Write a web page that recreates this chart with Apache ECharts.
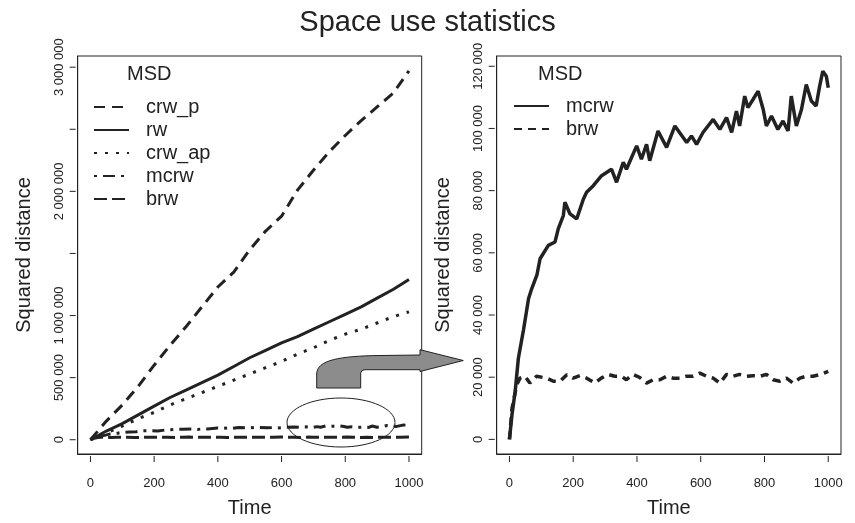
<!DOCTYPE html>
<html>
<head>
<meta charset="utf-8">
<script src="https://cdn.jsdelivr.net/npm/echarts@6/dist/echarts.min.js"></script>
<style>
  html, body { margin: 0; padding: 0; background: #fff; }
  #main { width: 855px; height: 523px; }
</style>
</head>
<body>
<div id="main"></div>
<script>
// time points used for the three straight-ish walks (left panel)
var leftTime = [0, 50, 100, 150, 200, 250, 300, 350, 400, 450, 500, 550, 600, 650, 700, 750, 800, 850, 900, 950, 1000];
var crwP  = [0, 150000, 280000, 430000, 600000, 760000, 910000, 1070000, 1230000, 1350000, 1530000, 1680000, 1800000, 2010000, 2170000, 2320000, 2450000, 2570000, 2680000, 2790000, 2970000];
var rw    = [0, 70000, 130000, 200000, 270000, 340000, 400000, 460000, 520000, 590000, 660000, 720000, 780000, 830000, 890000, 950000, 1010000, 1070000, 1140000, 1210000, 1290000];
var crwAp = [0, 55000, 110000, 170000, 220000, 280000, 330000, 380000, 430000, 480000, 530000, 580000, 630000, 690000, 740000, 800000, 850000, 890000, 940000, 990000, 1030000];

// mcrw and brw (same walks in both panels)
var mcrwTime = [0, 8, 18, 28, 44, 60, 70, 86, 96, 122, 143, 153, 169, 174, 190, 211, 232, 242, 263, 289, 320, 336, 357, 367, 399, 414, 430, 440, 466, 493, 519, 556, 571, 587, 607, 639, 660, 681, 697, 712, 722, 738, 748, 764, 780, 796, 806, 822, 842, 858, 874, 884, 900, 916, 931, 947, 962, 973, 983, 994, 1000];
var mcrwMsd  = [0, 8000, 15500, 26100, 35200, 45300, 48500, 52800, 58100, 62400, 63500, 67700, 72000, 76300, 72500, 70900, 77300, 79500, 81600, 84800, 86900, 82700, 89100, 86900, 94400, 90100, 94900, 89600, 99200, 93900, 100800, 95500, 97600, 94900, 98700, 102900, 99700, 103500, 98700, 105600, 100800, 110400, 106700, 109300, 112000, 106100, 100800, 104000, 99700, 102400, 99200, 110400, 100800, 106100, 114100, 108800, 107200, 113600, 118400, 116800, 113100];
var brwTime = [0, 8, 23, 33, 49, 64, 85, 117, 138, 159, 180, 200, 221, 242, 268, 288, 309, 330, 351, 367, 388, 409, 430, 451, 472, 493, 513, 534, 555, 576, 597, 618, 639, 660, 681, 701, 722, 743, 764, 785, 806, 827, 848, 869, 890, 911, 931, 952, 973, 1000];
var brwMsd  = [0, 10000, 17600, 19700, 20300, 18100, 20300, 19700, 18700, 18700, 20800, 19700, 20500, 19700, 18100, 19700, 20900, 20300, 20300, 19200, 20900, 19900, 18100, 19200, 19200, 20300, 19700, 19700, 20300, 20300, 21300, 20300, 19700, 18100, 20900, 20300, 20900, 20300, 20500, 20300, 20900, 19200, 18700, 19700, 18100, 19700, 20300, 20300, 20800, 21900];

var timeTicks = [0, 200, 400, 600, 800, 1000];
var leftTicks = [0, 500000, 1000000, 1500000, 2000000, 2500000, 3000000];
var leftLabels = [0, 500000, 1000000, 2000000, 3000000];
var rightTicks = [0, 20000, 40000, 60000, 80000, 100000, 120000];

var ink = '#222';
var font = 'Liberation Sans, Arial, Helvetica, sans-serif';
var xMin = -40;
var yMins = [-115000, -4700];

var zip = function(xs, ys){
    var out = [];
    for (var i = 0; i < xs.length; i++) out.push([xs[i], ys[i]]);
    return out;
};
// "1 000 000" style, like the original
var spaced = function(v){
    return String(v).replace(/\B(?=(\d{3})+(?!\d))/g, ' ');
};

/**
 * outline of the grey bent arrow (pixels); the rounded shoulder is a cubic curve
 */
var arrowPoints = function(){
    var pts = [];
    var p0 = [316.7, 374], c1 = [316.7, 360], c2 = [340, 356], p3 = [380, 355.5];
    for (var i = 0; i <= 16; i++) {
        var t = i / 16, u = 1 - t;
        pts.push([
            u*u*u*p0[0] + 3*u*u*t*c1[0] + 3*u*t*t*c2[0] + t*t*t*p3[0],
            u*u*u*p0[1] + 3*u*u*t*c1[1] + 3*u*t*t*c2[1] + t*t*t*p3[1]
        ]);
    }
    pts.push([420, 355], [420, 349.7], [463.3, 360.5], [420, 371.5], [420, 369.7],
             [365, 369.7], [362, 370.5], [360.7, 373], [360.7, 388], [316.7, 388]);
    return pts;
};

var xAxisOf = function(idx){
    return {
        type: 'value', gridIndex: idx, min: xMin, max: 1040,
        name: 'Time', nameLocation: 'middle', nameGap: 44,
        nameTextStyle: { fontSize: 20, color: ink, fontFamily: font },
        axisLine: { show: true, onZero: false, lineStyle: { color: ink, width: 1 } },
        splitLine: { show: false },
        axisTick: { show: false },
        axisLabel: { customValues: timeTicks, fontSize: 13, color: ink, fontFamily: font, margin: 23,
                     formatter: function(v){ return String(v); } }
    };
};
var yAxisOf = function(idx, mx, labels){
    return {
        type: 'value', gridIndex: idx, min: yMins[idx], max: mx,
        name: 'Squared distance', nameLocation: 'middle', nameGap: 43,
        nameTextStyle: { fontSize: 20, color: ink, fontFamily: font },
        axisLine: { show: true, onZero: false, lineStyle: { color: ink, width: 1 } },
        splitLine: { show: false },
        axisTick: { show: false },
        axisLabel: { customValues: labels, rotate: 90, fontSize: 13, color: ink, fontFamily: font, margin: 12,
                     formatter: spaced }
    };
};
var lineOf = function(name, idx, data, dash, width){
    return {
        name: name, type: 'line', xAxisIndex: idx, yAxisIndex: idx,
        data: data, symbol: 'none', showSymbol: false, animation: false,
        lineStyle: { color: ink, width: width || 3, type: dash, cap: 'butt' },
        itemStyle: { color: ink }
    };
};
var legendOf = function(left, top, names){
    return {
        left: left, top: top, orient: 'vertical', padding: 0,
        itemWidth: 35, itemHeight: 14, itemGap: 3,
        selectedMode: false,
        data: names,
        formatter: function(n){ return n.split(' ')[0]; },
        itemStyle: { opacity: 0 },
        lineStyle: { width: 2 },
        textStyle: { fontSize: 20, color: ink, fontFamily: font, padding: [0, 0, 0, 12] }
    };
};

var myChart = echarts.init(document.getElementById('main'), null, { renderer: 'canvas' });
var graphics = [
    // callout: ellipse round the low curves, arrow pointing to the zoomed panel
    { type: 'ellipse', z: 100, silent: true,
      shape: { cx: 341, cy: 422.5, rx: 54, ry: 24.5 },
      style: { fill: null, stroke: ink, lineWidth: 1 } },
    { type: 'polygon', z: 100, silent: true,
      shape: { points: arrowPoints() },
      style: { fill: '#8c8c8c', stroke: ink, lineWidth: 1 } }
];
var option = {
    backgroundColor: '#fff',
    animation: false,
    textStyle: { fontFamily: font },
    title: [
        { text: 'Space use statistics', left: 'center', top: 3,
          textStyle: { fontSize: 29, fontWeight: 'normal', color: ink, fontFamily: font } },
        { text: 'MSD', left: 127, top: 64, padding: 0,
          textStyle: { fontSize: 20, fontWeight: 'normal', color: ink, fontFamily: font } },
        { text: 'MSD', left: 538, top: 64, padding: 0,
          textStyle: { fontSize: 20, fontWeight: 'normal', color: ink, fontFamily: font } }
    ],
    grid: [
        { left: 77.7, top: 56, width: 344, height: 400, show: true, borderColor: ink, borderWidth: 1, backgroundColor: 'transparent' },
        { left: 496.7, top: 56, width: 344.3, height: 400, show: true, borderColor: ink, borderWidth: 1, backgroundColor: 'transparent' }
    ],
    xAxis: [xAxisOf(0), xAxisOf(1)],
    yAxis: [
        yAxisOf(0, 3090000, leftLabels),
        yAxisOf(1, 123300, rightTicks)
    ],
    legend: [
        legendOf(93, 97, ['crw_p', 'rw', 'crw_ap', 'mcrw', 'brw']),
        legendOf(513, 96, ['mcrw (zoom)', 'brw (zoom)'])
    ],
    series: [
        lineOf('crw_p', 0, zip(leftTime, crwP), [11, 7]),
        lineOf('rw', 0, zip(leftTime, rw), 'solid'),
        lineOf('crw_ap', 0, zip(leftTime, crwAp), [3, 8]),
        lineOf('mcrw', 0, zip(mcrwTime, mcrwMsd), [3, 6, 12, 6]),
        lineOf('brw', 0, zip(brwTime, brwMsd), [13, 5]),
        lineOf('mcrw (zoom)', 1, zip(mcrwTime, mcrwMsd), 'solid', 3.5),
        lineOf('brw (zoom)', 1, zip(brwTime, brwMsd), [8, 6], 3.5)
    ],
    graphic: graphics
};
myChart.setOption(option);

/**
 * R-style ticks, just outside the box, placed through the chart's own scales
 */
var yTickSets = [leftTicks, rightTicks];
var tickMarks = [];
[0, 1].forEach(function(g){
    timeTicks.forEach(function(t){
        var p = myChart.convertToPixel({ gridIndex: g }, [t, yMins[g]]);
        tickMarks.push({ type: 'line', silent: true, z: 50,
            shape: { x1: p[0], y1: p[1] + 2, x2: p[0], y2: p[1] + 8 },
            style: { stroke: ink, lineWidth: 1 } });
    });
    yTickSets[g].forEach(function(v){
        var p = myChart.convertToPixel({ gridIndex: g }, [xMin, v]);
        tickMarks.push({ type: 'line', silent: true, z: 50,
            shape: { x1: p[0] - 8, y1: p[1], x2: p[0] - 2, y2: p[1] },
            style: { stroke: ink, lineWidth: 1 } });
    });
});
myChart.setOption({ graphic: graphics.concat(tickMarks) });
</script>
</body>
</html>
